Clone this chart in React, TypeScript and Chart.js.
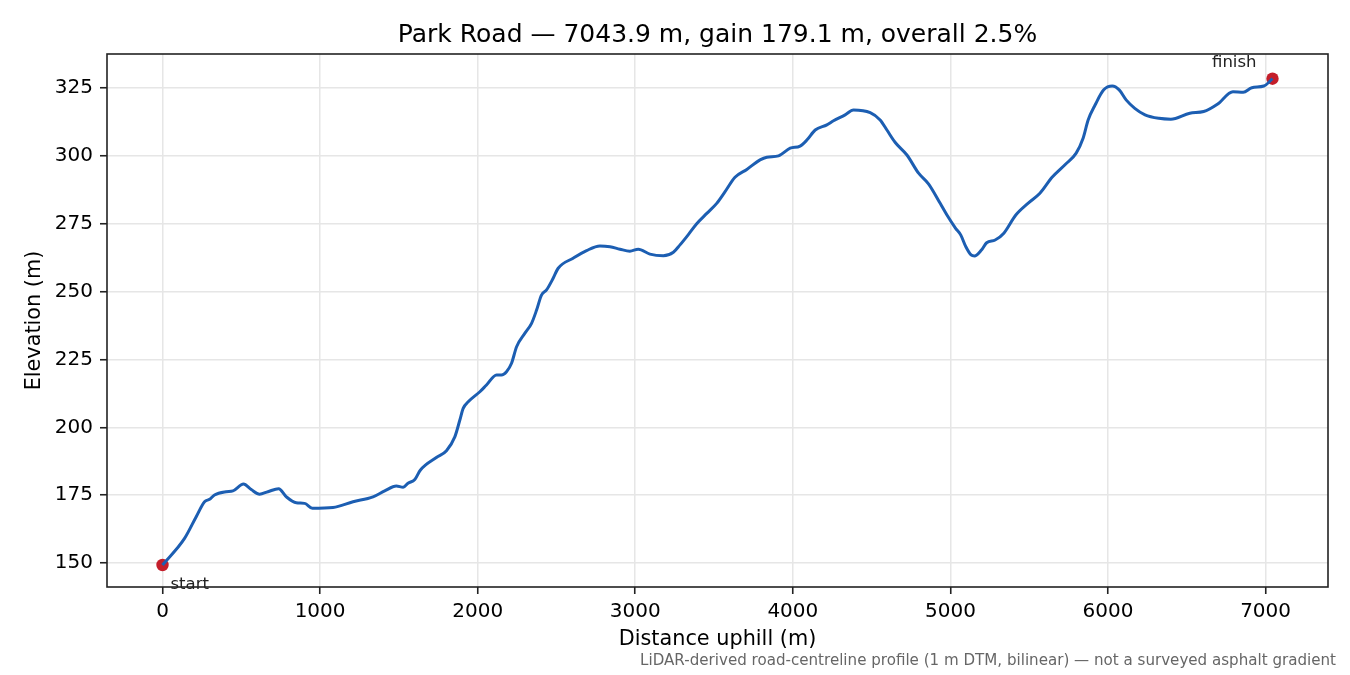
import React, { useEffect, useRef } from 'react'
import { Chart, registerables, Plugin } from 'chart.js'

Chart.register(...registerables)

// distance along the road (m) and elevation (m)
const distance = [
  0, 140, 214, 267, 299, 330, 404, 447, 514, 563, 616, 669, 737, 786, 849,
  902, 951, 1082, 1209, 1336, 1410, 1484, 1527, 1558, 1601, 1637, 1738, 1802,
  1855, 1887, 1908, 1940, 2014, 2056, 2120, 2151, 2183, 2215, 2247, 2299,
  2342, 2374, 2405, 2437, 2479, 2511, 2606, 2691, 2776, 2840, 2903, 2966,
  3019, 3093, 3178, 3242, 3284, 3337, 3390, 3454, 3517, 3570, 3633, 3708,
  3792, 3835, 3909, 3983, 4046, 4089, 4142, 4216, 4258, 4332, 4385, 4491,
  4554, 4597, 4650, 4724, 4798, 4862, 4935, 4978, 5033, 5066, 5098, 5131,
  5153, 5197, 5230, 5284, 5339, 5415, 5492, 5568, 5645, 5732, 5798, 5842,
  5874, 5918, 5973, 6027, 6071, 6115, 6170, 6235, 6323, 6399, 6519, 6607,
  6694, 6793, 6858, 6913, 6989, 7043.9,
]
const elevation = [
  149.3, 159.1, 167.1, 172.6, 173.5, 175.1, 176.3, 176.6, 179.1, 177.1, 175.4,
  176.3, 177.4, 174.4, 172.2, 172.0, 170.2, 170.5, 172.6, 174.4, 176.6, 178.4,
  177.9, 179.4, 180.8, 184.3, 188.9, 191.4, 196.5, 202.7, 207.0, 209.4, 213.1,
  215.6, 219.3, 219.3, 220.5, 223.6, 229.7, 234.6, 238.3, 243.2, 248.7, 250.6,
  254.9, 258.6, 262.3, 265.1, 266.8, 266.5, 265.6, 264.9, 265.6, 263.8, 263.2,
  264.5, 267.2, 271.0, 275.0, 278.8, 282.5, 286.8, 292.1, 295.0, 298.5, 299.5,
  300.0, 302.8, 303.6, 305.8, 309.5, 311.4, 312.9, 315.1, 316.9, 315.9, 313.2,
  309.5, 304.9, 300.3, 293.6, 289.6, 282.5, 278.2, 273.3, 270.8, 266.5, 263.5,
  263.1, 265.3, 268.0, 269.0, 271.5, 278.2, 282.5, 286.2, 292.1, 297.0, 301.0,
  306.5, 313.2, 318.7, 324.3, 325.7, 324.3, 320.6, 317.5, 315.1, 313.8, 313.5,
  315.7, 316.3, 319.0, 323.6, 323.4, 325.1, 325.7, 328.4,
]
const xTicks = [0, 1000, 2000, 3000, 4000, 5000, 6000, 7000]
const yTicks = [150, 175, 200, 225, 250, 275, 300, 325]
const endLabels = ['start', 'finish']

const titleText = 'Park Road — 7043.9 m, gain 179.1 m, overall 2.5%'
const noteText =
  'LiDAR-derived road-centreline profile (1 m DTM, bilinear) — not a surveyed asphalt gradient'

const FONT = '"DejaVu Sans", sans-serif'

const textPlugin: Plugin<'line'> = {
  id: 'profileText',
  afterDraw(chart) {
    const { ctx, chartArea } = chart
    const xs = chart.scales.x
    const ys = chart.scales.y
    ctx.save()

    // axes frame on all four sides
    ctx.strokeStyle = '#222'
    ctx.lineWidth = 1.6
    ctx.strokeRect(
      chartArea.left,
      chartArea.top,
      chartArea.right - chartArea.left,
      chartArea.bottom - chartArea.top
    )

    ctx.fillStyle = '#000'
    ctx.font = `25px ${FONT}`
    ctx.textAlign = 'center'
    ctx.textBaseline = 'alphabetic'
    ctx.fillText(titleText, (chartArea.left + chartArea.right) / 2, chartArea.top - 12)

    // start / finish labels
    const last = distance.length - 1
    ctx.font = `16.5px ${FONT}`
    ctx.fillStyle = '#222'
    ctx.textAlign = 'left'
    ctx.fillText(
      endLabels[0],
      xs.getPixelForValue(distance[0]) + 8,
      ys.getPixelForValue(elevation[0]) + 24
    )
    ctx.textAlign = 'right'
    ctx.fillText(
      endLabels[1],
      xs.getPixelForValue(distance[last]) - 16,
      ys.getPixelForValue(elevation[last]) - 12
    )

    ctx.font = `15.1px ${FONT}`
    ctx.fillStyle = '#666'
    ctx.textAlign = 'right'
    ctx.fillText(noteText, 1336, 665)
    ctx.restore()
  },
}

const App = () => {
  const canvasRef = useRef<HTMLCanvasElement>(null)

  useEffect(() => {
    if (!canvasRef.current) return
    const points = distance.map((d, i) => ({ x: d, y: elevation[i] }))
    const last = distance.length - 1

    const chart = new Chart(canvasRef.current, {
      type: 'line',
      data: {
        datasets: [
          {
            data: points,
            borderColor: '#1c5eb2',
            borderWidth: 3,
            pointRadius: 0,
            cubicInterpolationMode: 'monotone',
            fill: false,
          },
          {
            data: [
              { x: distance[0], y: elevation[0] },
              { x: distance[last], y: elevation[last] },
            ],
            showLine: false,
            pointRadius: 6.2,
            pointBackgroundColor: '#c41e2a',
            pointBorderWidth: 0,
          },
        ],
      },
      options: {
        responsive: false,
        animation: false,
        layout: { padding: { left: 0, right: 22, top: 54, bottom: 0 } },
        plugins: {
          legend: { display: false },
          tooltip: { enabled: false },
        },
        scales: {
          x: {
            type: 'linear',
            min: -352.2,
            max: 7396.1,
            afterBuildTicks: (scale) => {
              scale.ticks = xTicks.map((v) => ({ value: v }))
            },
            afterFit: (scale) => {
              scale.height = 88
            },
            border: { display: false },
            grid: {
              color: '#e6e6e6',
              lineWidth: 1.5,
              tickColor: '#222',
              tickLength: 7,
              tickWidth: 1.6,
            },
            ticks: {
              color: '#000',
              font: { family: FONT, size: 20 },
              padding: 6,
              maxRotation: 0,
              callback: (v) => String(v),
            },
            title: {
              display: true,
              text: 'Distance uphill (m)',
              color: '#000',
              font: { family: FONT, size: 20.8 },
              padding: { top: 0, bottom: 23 },
            },
          },
          y: {
            type: 'linear',
            min: 141.2,
            max: 337.5,
            afterBuildTicks: (scale) => {
              scale.ticks = yTicks.map((v) => ({ value: v }))
            },
            afterFit: (scale) => {
              scale.width = 107
            },
            border: { display: false },
            grid: {
              color: '#e6e6e6',
              lineWidth: 1.5,
              tickColor: '#222',
              tickLength: 7,
              tickWidth: 1.6,
            },
            ticks: {
              color: '#000',
              font: { family: FONT, size: 20 },
              padding: 7,
              callback: (v) => String(v),
            },
            title: {
              display: true,
              text: 'Elevation (m)',
              color: '#000',
              font: { family: FONT, size: 20.8 },
              padding: { top: 22, bottom: 0 },
            },
          },
        },
      },
      plugins: [textPlugin],
    })

    return () => {
      chart.destroy()
    }
  }, [])

  return (
    <div
      style={{
        position: 'absolute',
        left: 0,
        top: 0,
        width: 1350,
        height: 675,
        background: '#fff',
      }}
    >
      <canvas ref={canvasRef} width={1350} height={675} />
    </div>
  )
}

export default App
